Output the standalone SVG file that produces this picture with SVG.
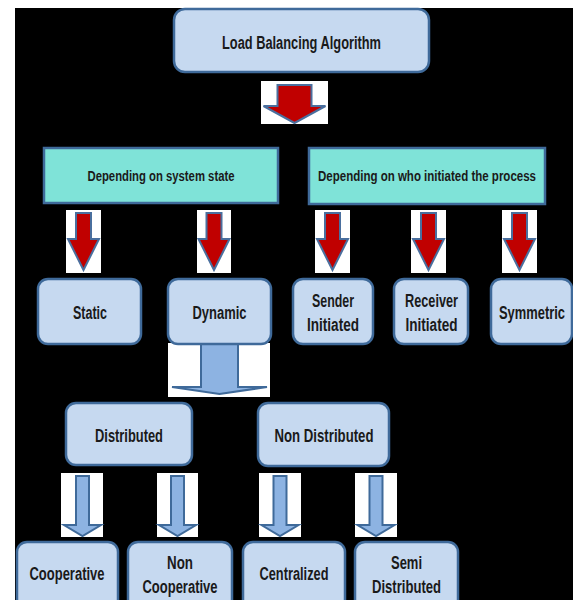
<svg xmlns="http://www.w3.org/2000/svg" width="573" height="600" viewBox="0 0 573 600">
<style>
.node rect{fill:#c6d9f0;stroke:#3f6a9a;stroke-width:2.5}
.cat rect{fill:#7fe3d8;stroke:#3f6a9a;stroke-width:2.5}
text{font-family:"Liberation Sans",Arial,sans-serif;font-size:18px;font-weight:bold;fill:#1a1a1a;text-anchor:middle}
.cat text{font-size:14px}
.bg{fill:#ffffff}
.red{fill:#c00000;stroke:#4a6f9e;stroke-width:2;stroke-linejoin:miter}
.blue{fill:#8db3e2;stroke:#3f6a9a;stroke-width:2;stroke-linejoin:miter}
</style>
<rect x="0" y="0" width="573" height="600" fill="#ffffff"/>
<rect x="15" y="8" width="558" height="592" fill="#000000"/>

<g id="connectors">
  <rect class="bg" x="261" y="81" width="67" height="43"/>
  <path class="red" d="M277.5,85 H311.5 V106 H325.5 L294.5,123 L263.5,106 H277.5 Z"/>
  <rect class="bg" x="66" y="210" width="35" height="63"/>
  <path class="red" d="M76,213 H91 V239 H99 L83.5,270 L68,239 H76 Z"/>
  <rect class="bg" x="197" y="210" width="34" height="63"/>
  <path class="red" d="M206.5,213 H221.5 V239 H229.5 L214,270 L198.5,239 H206.5 Z"/>
  <rect class="bg" x="315" y="210" width="35" height="63"/>
  <path class="red" d="M325,213 H340 V239 H348 L332.5,270 L317,239 H325 Z"/>
  <rect class="bg" x="411" y="210" width="35" height="63"/>
  <path class="red" d="M421,213 H436 V239 H444 L428.5,270 L413,239 H421 Z"/>
  <rect class="bg" x="502" y="210" width="35" height="63"/>
  <path class="red" d="M512,213 H527 V239 H535 L519.5,270 L504,239 H512 Z"/>
  <rect class="bg" x="168" y="343" width="102" height="54"/>
  <path class="blue" d="M201,344 H238 V387 H267 L219.5,394 L172,387 H201 Z"/>
  <rect class="bg" x="61" y="473" width="42" height="64"/>
  <path class="blue" d="M76,476 H89 V525 H101 L82.5,536 L64,525 H76 Z"/>
  <rect class="bg" x="157" y="473" width="41" height="64"/>
  <path class="blue" d="M171,476 H184 V525 H196 L177.5,536 L159,525 H171 Z"/>
  <rect class="bg" x="259" y="473" width="42" height="64"/>
  <path class="blue" d="M273.5,476 H286.5 V525 H298.5 L280,536 L261.5,525 H273.5 Z"/>
  <rect class="bg" x="355" y="473" width="42" height="64"/>
  <path class="blue" d="M369.5,476 H382.5 V525 H394.5 L376,536 L357.5,525 H369.5 Z"/>
</g>

<g id="n-root" class="node"><rect x="174" y="9" width="255" height="63" rx="11"/><text x="301.5" y="49" font-size="17" textLength="159" lengthAdjust="spacingAndGlyphs">Load Balancing Algorithm</text></g>
<g id="n-state" class="cat"><rect x="44" y="148" width="234" height="55"/><text x="161" y="181" textLength="147" lengthAdjust="spacingAndGlyphs">Depending on system state</text></g>
<g id="n-who" class="cat"><rect x="309" y="148" width="236" height="56"/><text x="427" y="181" textLength="218" lengthAdjust="spacingAndGlyphs">Depending on who initiated the process</text></g>

<g id="n-static" class="node"><rect x="38" y="279" width="103" height="65" rx="10"/><text x="90" y="319" textLength="34" lengthAdjust="spacingAndGlyphs">Static</text></g>
<g id="n-dynamic" class="node"><rect x="168" y="279" width="103" height="65" rx="10"/><text x="219.5" y="319" textLength="54" lengthAdjust="spacingAndGlyphs">Dynamic</text></g>
<g id="n-sender" class="node"><rect x="293" y="279" width="80" height="65" rx="10"/><text x="333" y="306.5" textLength="42" lengthAdjust="spacingAndGlyphs">Sender</text><text x="333" y="330.5" textLength="52" lengthAdjust="spacingAndGlyphs">Initiated</text></g>
<g id="n-receiver" class="node"><rect x="394" y="279" width="74" height="65" rx="10"/><text x="431.5" y="306.5" textLength="53" lengthAdjust="spacingAndGlyphs">Receiver</text><text x="431.5" y="330.5" textLength="52" lengthAdjust="spacingAndGlyphs">Initiated</text></g>
<g id="n-symmetric" class="node"><rect x="491" y="279" width="81" height="65" rx="10"/><text x="532" y="319" textLength="66" lengthAdjust="spacingAndGlyphs">Symmetric</text></g>

<g id="n-distributed" class="node"><rect x="66" y="403" width="126" height="62" rx="10"/><text x="129" y="441.5" font-size="17" textLength="68" lengthAdjust="spacingAndGlyphs">Distributed</text></g>
<g id="n-nondistributed" class="node"><rect x="258" y="403" width="131" height="63" rx="10"/><text x="324" y="441.5" font-size="17" textLength="99" lengthAdjust="spacingAndGlyphs">Non Distributed</text></g>

<g id="n-cooperative" class="node"><rect x="17" y="542" width="101" height="70" rx="10"/><text x="67" y="580" font-size="17" textLength="75" lengthAdjust="spacingAndGlyphs">Cooperative</text></g>
<g id="n-noncooperative" class="node"><rect x="128" y="542" width="104" height="70" rx="10"/><text x="180" y="568.5" font-size="17" textLength="26" lengthAdjust="spacingAndGlyphs">Non</text><text x="180" y="593" font-size="17" textLength="75" lengthAdjust="spacingAndGlyphs">Cooperative</text></g>
<g id="n-centralized" class="node"><rect x="243" y="542" width="102" height="70" rx="10"/><text x="294" y="580" font-size="17" textLength="69" lengthAdjust="spacingAndGlyphs">Centralized</text></g>
<g id="n-semi" class="node"><rect x="355" y="542" width="103" height="70" rx="10"/><text x="406.5" y="568.5" font-size="17" textLength="31" lengthAdjust="spacingAndGlyphs">Semi</text><text x="406.5" y="593" font-size="17" textLength="69" lengthAdjust="spacingAndGlyphs">Distributed</text></g>
</svg>
